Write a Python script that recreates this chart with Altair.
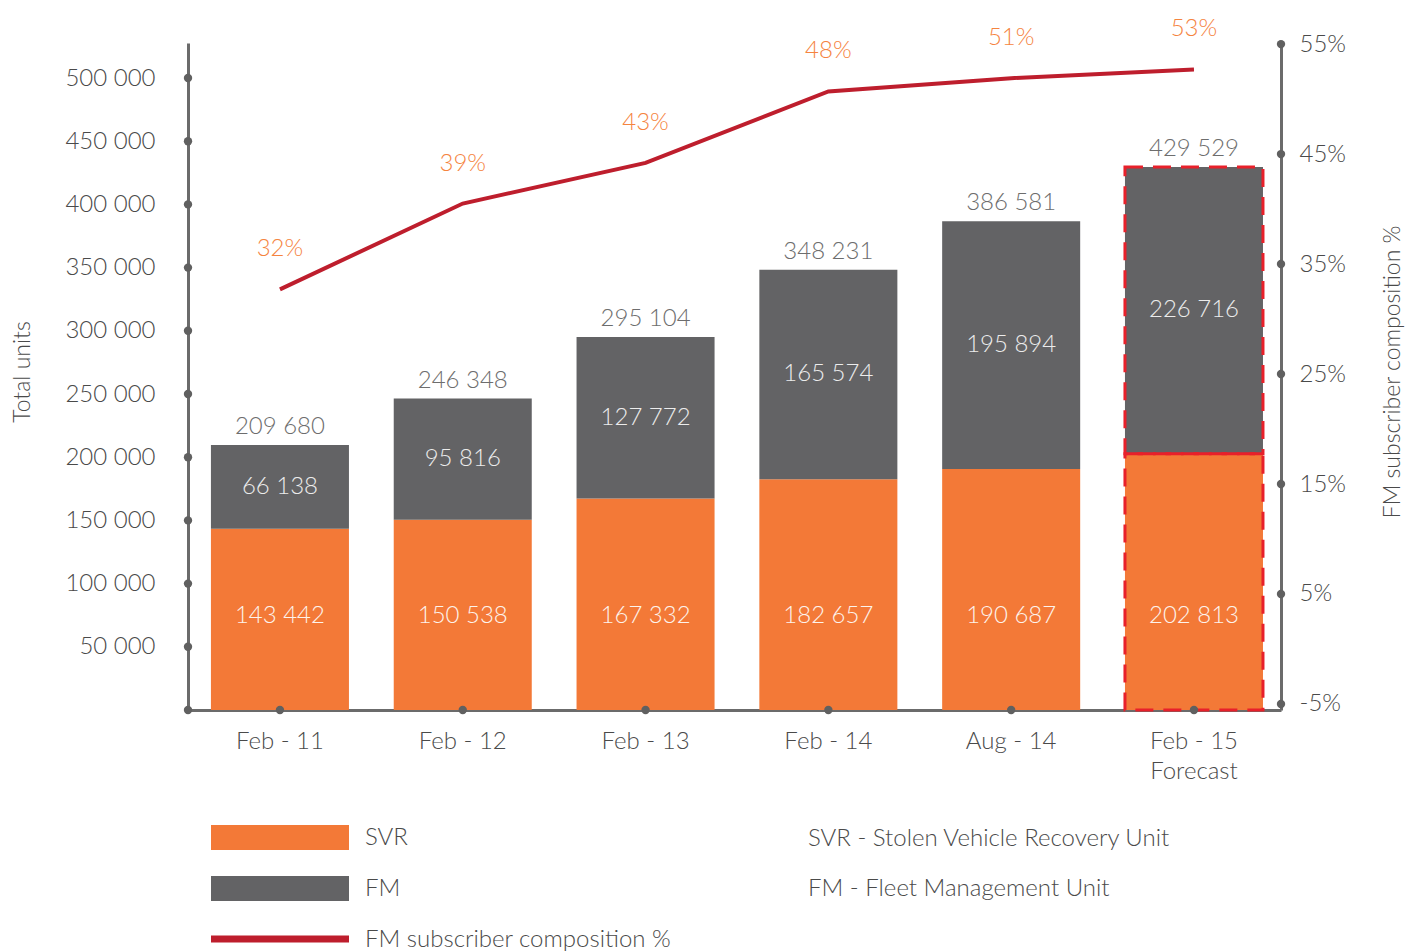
import altair as alt
import pandas as pd

# ---------------- data ----------------
categories = ["Feb - 11", "Feb - 12", "Feb - 13", "Feb - 14", "Aug - 14", "Feb - 15|Forecast"]
svr_units = [143442, 150538, 167332, 182657, 190687, 202813]
fm_units = [66138, 95816, 127772, 165574, 195894, 226716]
total_units = [209680, 246348, 295104, 348231, 386581, 429529]
fm_share_line = [32.7, 40.5, 44.2, 50.7, 51.9, 52.7]
fm_share_labels = [32, 39, 43, 48, 51, 53]
is_forecast = [False, False, False, False, False, True]
left_ticks = [50000, 100000, 150000, 200000, 250000, 300000, 350000, 400000, 450000, 500000]
right_ticks = [-5, 5, 15, 25, 35, 45, 55]


def spaced(n):
    return f"{n:,}".replace(",", " ")


rows = []
for c, s, f, fc in zip(categories, svr_units, fm_units, is_forecast):
    rows.append(dict(cat=c, series="SVR", lo=0, hi=s, mid=s / 2, label=spaced(s), forecast=fc))
    rows.append(dict(cat=c, series="FM", lo=s, hi=s + f, mid=s + f / 2, label=spaced(f), forecast=fc))
bars_df = pd.DataFrame(rows)
tot_df = pd.DataFrame(dict(cat=categories,
                           top=[s + f for s, f in zip(svr_units, fm_units)],
                           label=[spaced(t) for t in total_units]))
line_df = pd.DataFrame(dict(cat=categories, pct=fm_share_line,
                            label=[f"{v}%" for v in fm_share_labels]))
left_dots = pd.DataFrame(dict(v=[0] + left_ticks))
right_dots = pd.DataFrame(dict(v=right_ticks))
one = pd.DataFrame(dict(a=[0]))

# ---------------- style ----------------
W, H = 1093, 667
FONT = "Lato"
ORANGE = "#F37937"
GREY = "#636365"
RED = "#BE1E2D"
DASH_RED = "#E8202A"
AXIS = "#6b6b6b"
TXT = "#4a4a4a"

xscale = alt.Scale(domain=categories, paddingInner=0.245, paddingOuter=0.112, align=0.56)
x_axis = alt.Axis(title=None, ticks=False, grid=False, domainColor=AXIS, domainWidth=3,
                  labelFont=FONT, labelFontSize=24, labelFontWeight=300, labelColor=TXT,
                  labelPadding=19, labelAngle=0, labelExpr="split(datum.label, '|')",
                  labelLineHeight=30)
x_enc = alt.X("cat:N", scale=xscale, sort=categories, axis=x_axis)
x_plain = alt.X("cat:N", scale=xscale, sort=categories)

yl_scale = alt.Scale(domain=[0, 527700], nice=False, zero=False)
yl_axis = alt.Axis(title="Total units", values=left_ticks, ticks=False, grid=False,
                   domainColor=AXIS, domainWidth=3,
                   labelExpr="replace(format(datum.value, ','), ',', ' ')",
                   labelFont=FONT, labelFontSize=24, labelFontWeight=300, labelColor=TXT,
                   labelPadding=33, titleFont=FONT, titleFontSize=23, titleFontWeight=300,
                   titleColor=TXT, titleX=-166, titleY=H / 2 - 5, titleAngle=270,
                   titleAlign="center", titleBaseline="middle")

yr_scale = alt.Scale(domain=[-5.55, 55.1], nice=False, zero=False)
yr_axis = alt.Axis(title="FM subscriber composition %", orient="right", values=right_ticks,
                   ticks=False, grid=False, domainColor=AXIS, domainWidth=3,
                   labelExpr="datum.value + '%'",
                   labelFont=FONT, labelFontSize=24, labelFontWeight=300, labelColor=TXT,
                   labelPadding=18, titleFont=FONT, titleFontSize=23, titleFontWeight=300,
                   titleColor=TXT, titleX=111, titleY=H / 2 - 5, titleAngle=270,
                   titleAlign="center", titleBaseline="middle")

# ---------------- left layer (bars) ----------------
bars = alt.Chart(bars_df).mark_bar().encode(
    x=x_enc,
    y=alt.Y("lo:Q", scale=yl_scale, axis=yl_axis),
    y2="hi:Q",
    color=alt.Color("series:N", scale=alt.Scale(domain=["SVR", "FM"], range=[ORANGE, GREY]),
                    legend=None),
)
dashed = alt.Chart(bars_df).transform_filter("datum.forecast").mark_bar(
    filled=False, stroke=DASH_RED, strokeWidth=3, strokeDash=[18, 10]
).encode(x=x_plain, y=alt.Y("lo:Q", scale=yl_scale), y2="hi:Q")

fm_text = alt.Chart(bars_df).transform_filter("datum.series == 'FM'").mark_text(
    font=FONT, fontSize=24, fontWeight=300, color="#ececec", baseline="middle"
).encode(x=x_plain, y=alt.Y("mid:Q", scale=yl_scale), text="label:N")

svr_text = alt.Chart(bars_df).transform_filter("datum.series == 'SVR'").mark_text(
    font=FONT, fontSize=24, fontWeight=300, color="#fdf3ec", baseline="middle"
).encode(x=x_plain, y=alt.value(573), text="label:N")

tot_text = alt.Chart(tot_df).mark_text(
    font=FONT, fontSize=24, fontWeight=300, color="#6d6d6d", baseline="bottom", dy=-6
).encode(x=x_plain, y=alt.Y("top:Q", scale=yl_scale), text="label:N")

ldots = alt.Chart(left_dots).mark_circle(size=70, color="#606060", opacity=1).encode(
    x=alt.value(0), y=alt.Y("v:Q", scale=yl_scale))

xdots = alt.Chart(tot_df).mark_circle(size=70, color="#606060", opacity=1).encode(
    x=x_plain, y=alt.value(H))

# legend
leg_txt = dict(font=FONT, fontSize=24, fontWeight=300, color=TXT, align="left", baseline="middle")
leg = [
    alt.Chart(one).mark_rect(color=ORANGE).encode(
        x=alt.value(23), x2=alt.value(161), y=alt.value(782), y2=alt.value(807)),
    alt.Chart(one).mark_rect(color=GREY).encode(
        x=alt.value(23), x2=alt.value(161), y=alt.value(833), y2=alt.value(858)),
    alt.Chart(one).mark_rule(color=RED, strokeWidth=7).encode(
        x=alt.value(23), x2=alt.value(161), y=alt.value(896)),
    alt.Chart(one).mark_text(**leg_txt).encode(x=alt.value(177), y=alt.value(795), text=alt.value("SVR")),
    alt.Chart(one).mark_text(**leg_txt).encode(x=alt.value(177), y=alt.value(846), text=alt.value("FM")),
    alt.Chart(one).mark_text(**leg_txt).encode(x=alt.value(177), y=alt.value(897),
                                               text=alt.value("FM subscriber composition %")),
    alt.Chart(one).mark_text(**leg_txt).encode(x=alt.value(620), y=alt.value(796),
                                               text=alt.value("SVR - Stolen Vehicle Recovery Unit")),
    alt.Chart(one).mark_text(**leg_txt).encode(x=alt.value(620), y=alt.value(846),
                                               text=alt.value("FM - Fleet Management Unit")),
]

left = alt.layer(bars, dashed, fm_text, svr_text, tot_text, ldots, xdots, *leg)

# ---------------- right layer (line) ----------------
line = alt.Chart(line_df).mark_line(color=RED, strokeWidth=4).encode(
    x=x_plain, y=alt.Y("pct:Q", scale=yr_scale, axis=yr_axis))
pct_text = alt.Chart(line_df).mark_text(
    font=FONT, fontSize=24, fontWeight=300, color="#F5843F", baseline="middle", dy=-40
).encode(x=x_plain, y=alt.Y("pct:Q", scale=yr_scale), text="label:N")
rdots = alt.Chart(right_dots).mark_circle(size=70, color="#606060", opacity=1).encode(
    x=alt.value(W), y=alt.Y("v:Q", scale=yr_scale))

right = alt.layer(line, pct_text, rdots)

chart = alt.layer(left, right).resolve_scale(y="independent").properties(
    width=W, height=H,
    padding={"left": 188, "top": 43, "right": 137, "bottom": 242},
    autosize=alt.AutoSizeParams(type="none"),
    background="white",
).configure_view(stroke=None)

chart.save("out.html", embed_options={"renderer": "svg", "actions": False})
